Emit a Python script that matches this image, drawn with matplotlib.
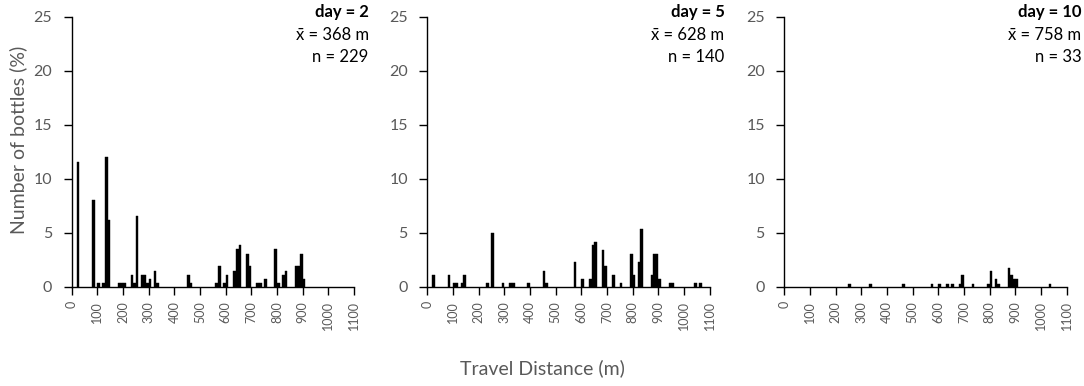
import matplotlib
matplotlib.use("Agg")
import matplotlib.pyplot as plt

plt.rcParams['font.family'] = ['Lato', 'DejaVu Sans']

# bin left edges (m) and percentage of bottles, 10 m bins
bins_d2 = [20, 80, 100, 120, 130, 140, 180, 190, 200, 230, 240, 250, 270, 280, 290, 300,
           320, 330, 450, 460, 560, 570, 590, 600, 630, 640, 650, 680, 690, 720, 730, 750,
           790, 800, 820, 830, 870, 880, 890, 900]
vals_d2 = [11.6, 8.1, 0.4, 0.4, 12.0, 6.2, 0.4, 0.4, 0.4, 1.15, 0.4, 6.6, 1.15, 1.15, 0.4, 0.75,
           1.5, 0.4, 1.15, 0.4, 0.4, 1.9, 0.4, 1.15, 1.5, 3.5, 3.9, 3.1, 1.9, 0.4, 0.4, 0.75,
           3.5, 0.4, 1.15, 1.5, 1.9, 1.9, 3.1, 0.75]

bins_d5 = [20, 80, 100, 110, 130, 140, 230, 250, 290, 320, 330, 390, 450, 460, 570, 600,
           630, 640, 650, 680, 690, 720, 750, 790, 800, 820, 830, 870, 880, 890, 900, 940,
           950, 1040, 1060]
vals_d5 = [1.15, 1.15, 0.37, 0.37, 0.37, 1.15, 0.37, 5.0, 0.37, 0.37, 0.37, 0.37, 1.5, 0.37,
           2.3, 0.77, 0.77, 3.86, 4.2, 3.46, 1.9, 1.15, 0.37, 3.1, 1.15, 2.3, 5.4, 1.15, 3.1,
           3.1, 0.77, 0.37, 0.37, 0.37, 0.37]

bins_d10 = [250, 330, 460, 570, 600, 630, 650, 680, 690, 730, 790, 800, 820, 830, 870, 880,
            890, 900, 1030]
vals_d10 = [0.3, 0.3, 0.3, 0.3, 0.3, 0.3, 0.3, 0.3, 1.1, 0.3, 0.3, 1.45, 0.7, 0.3, 1.8, 1.1,
            0.7, 0.7, 0.3]

days = ["2", "5", "10"]
means = [368, 628, 758]
counts = [229, 140, 33]

grey = '#595959'

fig = plt.figure(figsize=(10.84, 3.86), dpi=100)
lefts = [0.0661, 0.3942, 0.7235]
data = [(bins_d2, vals_d2), (bins_d5, vals_d5), (bins_d10, vals_d10)]

for i in range(3):
    ax = fig.add_axes([lefts[i], 0.2565, 0.2605, 0.6995])
    b, v = data[i]
    ax.bar(b, v, width=10, align='edge', color='black', edgecolor='black', linewidth=0.3)
    ax.set_xlim(0, 1100)
    ax.set_ylim(0, 25)
    ax.set_xticks(range(0, 1101, 100))
    ax.set_xticklabels([str(t) for t in range(0, 1101, 100)], rotation=90)
    ax.set_yticks(range(0, 26, 5))
    for s in ['top', 'right']:
        ax.spines[s].set_visible(False)
    for s in ['left', 'bottom']:
        ax.spines[s].set_linewidth(1.0)
    ax.tick_params(direction='out', length=6, width=1, colors='black', labelcolor=grey)
    ax.tick_params(axis='y', labelsize=11.5, pad=8)
    ax.tick_params(axis='x', labelsize=9, pad=4)
    ax.text(1.052, 1.018, f"day = {days[i]}", transform=ax.transAxes, ha='right', va='center',
            fontsize=12, fontweight='bold')
    ax.text(1.052, 0.933, f"x\u0304 = {means[i]} m", transform=ax.transAxes, ha='right',
            va='center', fontsize=12)
    ax.text(1.052, 0.852, f"n = {counts[i]}", transform=ax.transAxes, ha='right', va='center',
            fontsize=12)

fig.text(0.5, 0.047, "Travel Distance (m)", ha='center', va='center', fontsize=14, color=grey)
fig.text(0.0166, 0.637, "Number of bottles (%)", ha='center', va='center', rotation=90,
         fontsize=14, color=grey)

fig.savefig("out.png", dpi=100)
